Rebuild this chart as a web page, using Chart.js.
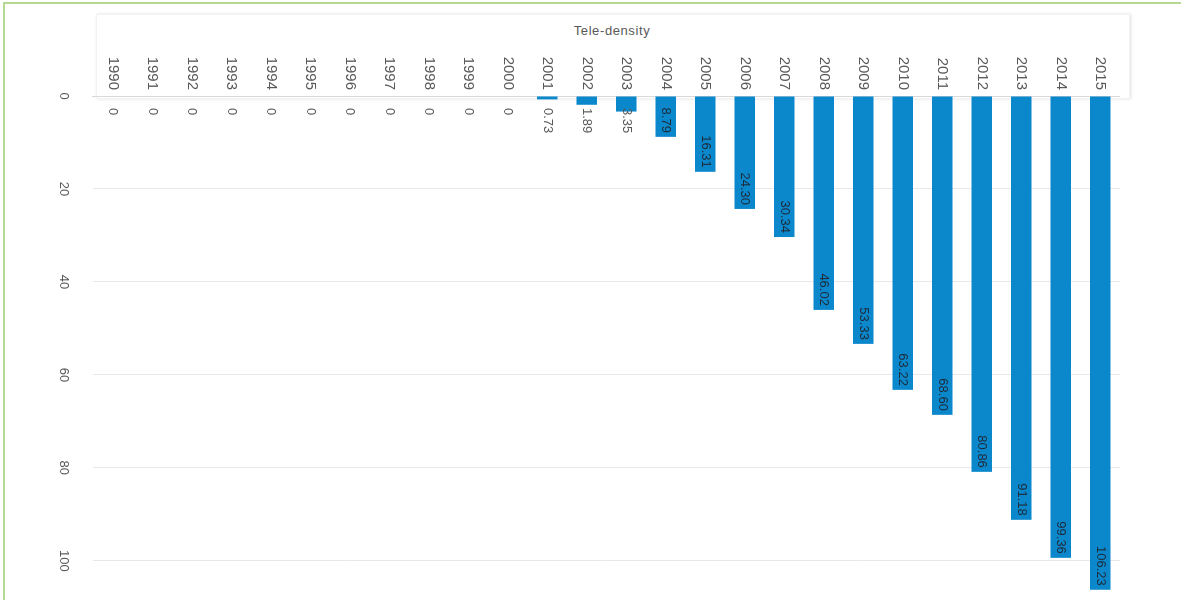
<!DOCTYPE html>
<html>
<head>
<meta charset="utf-8">
<title>Tele-density</title>
<script src="https://cdn.jsdelivr.net/npm/chart.js@4.4.1/dist/chart.umd.min.js"></script>
<style>
  html, body { margin: 0; padding: 0; width: 1181px; height: 600px; overflow: hidden; background: #fff; }
  #frame { position: absolute; left: 3px; top: 2px; width: 1178px; height: 598px; box-sizing: border-box;
           border-top: 2px solid #b5d991; border-left: 2px solid #b5d991; }
  #labelBox { position: absolute; left: 96px; top: 14px; width: 1032px; height: 83px; background: #fff;
              border: 1px solid #f2f2f2; box-shadow: 1px 0 3px rgba(0,0,0,0.12); }
  #title { position: absolute; left: 96px; top: 23px; width: 1032px; text-align: center;
           font: 13px "Liberation Sans", Arial, sans-serif; color: #595959; letter-spacing: 0.6px; }
  /* chart is drawn as a horizontal bar chart and turned a quarter clockwise */
  #turn { position: absolute; left: 0; top: 0; width: 600px; height: 1181px;
          transform-origin: 0 0; transform: translate(1181px, 0) rotate(90deg); }
</style>
</head>
<body>
<div id="frame"></div>
<div id="labelBox"></div>
<div id="title">Tele-density</div>
<div id="turn"><canvas id="chart" width="600" height="1181"></canvas></div>

<script>
const years = ['1990', '1991', '1992', '1993', '1994', '1995', '1996', '1997', '1998', '1999', '2000',
  '2001', '2002', '2003', '2004', '2005', '2006', '2007', '2008', '2009', '2010', '2011', '2012',
  '2013', '2014', '2015'];
const teleDensity = [0, 0, 0, 0, 0, 0, 0, 0, 0, 0, 0,
  0.73, 1.89, 3.35, 8.79, 16.31, 24.30, 30.34, 46.02, 53.33, 63.22, 68.60, 80.86,
  91.18, 99.36, 106.23];
const densityTicks = [0, 20, 40, 60, 80, 100];

Chart.defaults.font.family = '"Liberation Sans", Arial, sans-serif';

// data labels: short bars get the number past the base, long bars inside the end
const barLabels = {
  id: 'barLabels',
  afterDatasetsDraw(chart) {
    const ctx = chart.ctx;
    const base = chart.scales.x.getPixelForValue(0);
    chart.getDatasetMeta(0).data.forEach((bar, i) => {
      const v = teleDensity[i];
      const text = v === 0 ? '0' : v.toFixed(2);
      ctx.save();
      ctx.font = '13px "Liberation Sans", Arial, sans-serif';
      ctx.textBaseline = 'middle';
      if (v < 5) {
        ctx.textAlign = 'left';
        ctx.fillStyle = '#595959';
        ctx.fillText(text, base + 12, bar.y);
      } else {
        ctx.textAlign = 'right';
        ctx.fillStyle = '#1d2b3a';
        ctx.fillText(text, bar.x - 4, bar.y);
      }
      ctx.restore();
    });
  }
};

new Chart(document.getElementById('chart'), {
  type: 'bar',
  data: {
    labels: years,
    datasets: [{
      label: 'Tele-density',
      data: teleDensity,
      backgroundColor: '#0b88cc',
      barPercentage: 0.52,
      categoryPercentage: 1
    }]
  },
  options: {
    indexAxis: 'y',
    responsive: false,
    animation: false,
    layout: { padding: { top: 61, right: 2, left: 0, bottom: 0 } },
    plugins: { legend: { display: false }, tooltip: { enabled: false } },
    scales: {
      x: {
        min: 0,
        max: 108,
        afterBuildTicks: (s) => { s.ticks = densityTicks.map(v => ({ value: v })); },
        afterFit: (s) => { s.height = 93; },
        grid: { color: '#e8e8e8', drawTicks: false },
        border: { display: false },
        ticks: { padding: 22, color: '#595959', font: { size: 13 } }
      },
      y: {
        reverse: true,
        afterFit: (s) => { s.width = 96; },
        grid: { display: false, drawTicks: false },
        border: { display: true, color: '#d9d9d9' },
        ticks: { padding: 6, color: '#595959', font: { size: 15 }, autoSkip: false }
      }
    }
  },
  plugins: [barLabels]
});
</script>
</body>
</html>
